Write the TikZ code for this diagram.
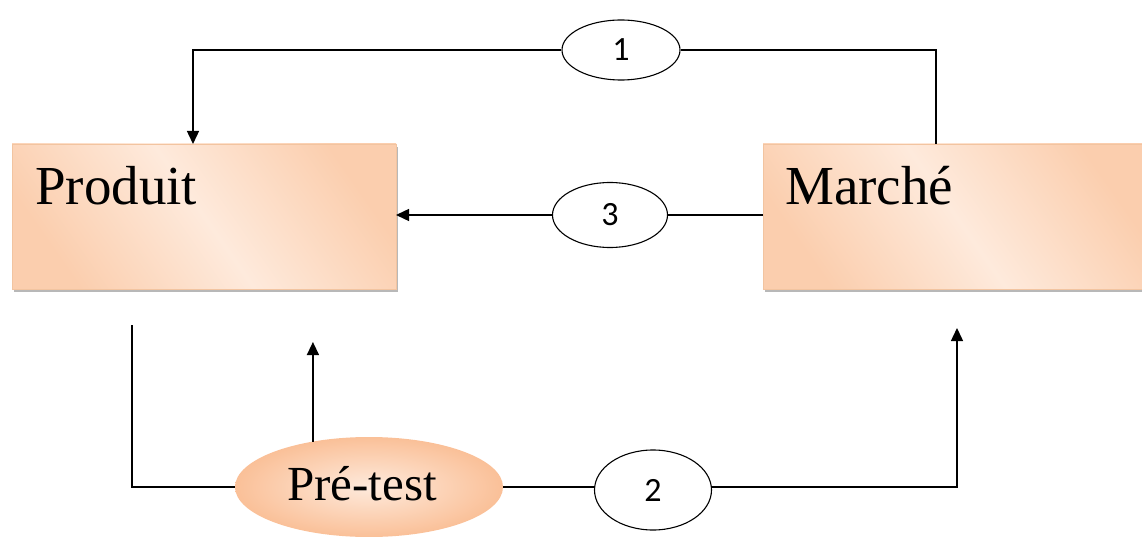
\documentclass[tikz,border=0pt]{standalone}
\usepackage{fontspec}
\setmainfont{Liberation Serif}
\newfontfamily\numfont{Carlito}
\usetikzlibrary{shapes.geometric,arrows.meta,shadows,calc}

\definecolor{peachdark}{RGB}{250,192,152}
\definecolor{peachmid}{RGB}{251,206,174}
\definecolor{peachlight}{RGB}{254,234,220}
\definecolor{peachedge}{RGB}{242,196,160}

\tikzset{
  box/.style={rectangle, anchor=north west, inner sep=0pt, outer sep=0pt,
    minimum width=#1, minimum height=145pt,
    shading=axis, top color=peachmid, bottom color=peachmid, middle color=peachlight,
    shading angle=-55, draw=peachedge, line width=0.6pt,
    drop shadow={shadow xshift=2pt, shadow yshift=-3pt, fill=black!35, opacity=0.8}},
  boxtext/.style={anchor=base west, inner sep=0pt, font=\fontsize{55}{60}\selectfont},
  tag/.style={ellipse, draw=black, line width=1.1pt, fill=white, inner sep=0pt,
    font=\numfont\fontsize{34}{36}\selectfont},
  pretest/.style={ellipse, inner sep=0pt, outer sep=0pt,
    minimum width=268pt, minimum height=100pt,
    inner color=peachlight, outer color=peachdark,
    font=\fontsize{49}{54}\selectfont},
  link/.style={draw=black, line width=1.4pt},
  arr/.style={link, -{Triangle[width=12pt,length=13pt]}},
}

\begin{document}
\begin{tikzpicture}[x=1pt, y=-1pt]
  \useasboundingbox (0,0) rectangle (1142,537);

  % the two main blocks
  \node[box=384pt] (prod) at (12,144) {};
  \node[boxtext] (prodtxt) at (35,205) {Produit};
  \node[box=386pt] (mar) at (763,144) {};
  \node[boxtext] (martxt) at (785,205) {Marché};

  % the test stage
  \node[pretest] (pre) at (369,487) {};
  \node[anchor=base, inner sep=0pt, font=\fontsize{49}{54}\selectfont] (pretxt) at (362,500) {Pré-test};

  % numbered flows
  \node[tag, minimum width=118pt, minimum height=60pt] (one) at (621,50) {1};
  \node[tag, minimum width=115pt, minimum height=65pt] (three) at (610,215) {3};
  \node[tag, minimum width=117pt, minimum height=80pt] (two) at (653,490) {2};

  % free ends of the connectors
  \coordinate (prodIn) at ($(prod.north west)+(181,0)$);
  \coordinate (marOut) at ($(mar.north west)+(173,0)$);
  \coordinate (prodLow) at (132,325);
  \coordinate (preTip) at (313,342);
  \coordinate (marTip) at (957,328);

  % flow 1: market back to product
  \draw[link] (marOut) |- (one.east);
  \draw[arr] (one.west) -| (prodIn);

  % flow 3: market to product directly
  \draw[link] (mar.west |- three.east) -- (three.east);
  \draw[arr] (three.west) -- (prod.east |- three.west);

  % product through the pre-test
  \draw[link] (prodLow) |- (pre.west);
  \draw[arr] (pre.141) -- (pre.141 |- preTip);

  % flow 2: pre-test to market
  \draw[link] (pre.east) -- (pre.east -| two.west);
  \draw[arr] (two.east |- pre.east) -| (marTip);
\end{tikzpicture}
\end{document}
